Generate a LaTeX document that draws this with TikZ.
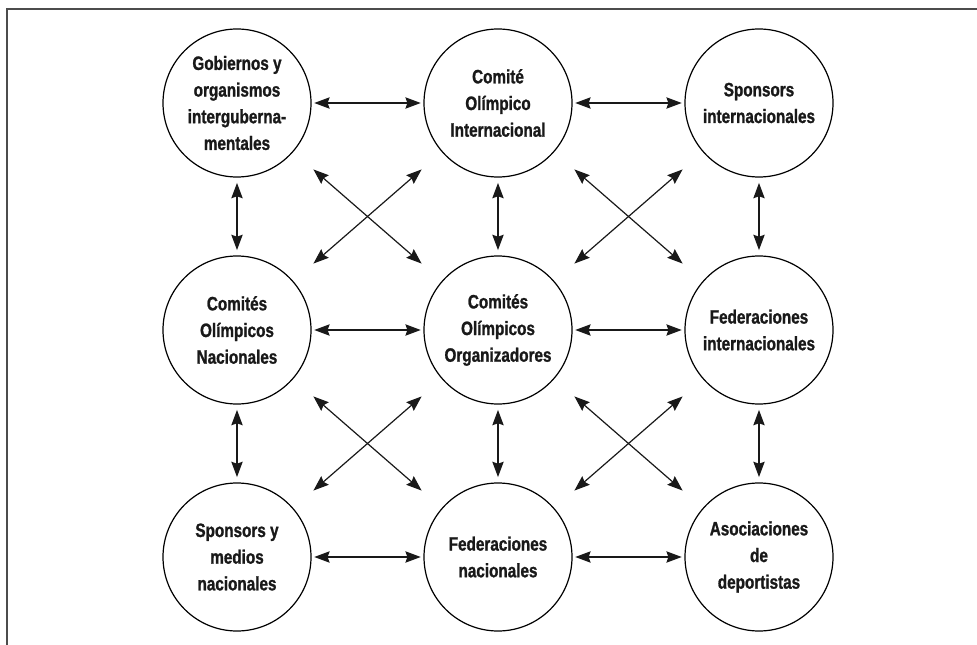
\documentclass[tikz,border=0pt]{standalone}
\usepackage{fontspec}
\newfontfamily\circfont{Liberation Sans}[FakeStretch=0.79, FakeBold=1.2]
\usetikzlibrary{arrows.meta}

\begin{document}
\begin{tikzpicture}[x=0.75pt, y=-0.75pt,
  actor/.style={circle, draw, line width=0.9pt, minimum size=111pt, inner sep=0pt,
    align=center, text=black!90, font=\circfont\bfseries\fontsize{14.5}{20}\selectfont},
  link/.style={{Stealth[length=11.5pt,width=8.5pt,inset=1.5pt]}-{Stealth[length=11.5pt,width=8.5pt,inset=1.5pt]},
    line width=0.9pt, black!90}]
  \useasboundingbox (0,0) rectangle (977,645);
  \draw[line width=1.4pt, black!70] (7,645) |- (977,9);

  \node[actor] (gob) at (237,103) {Gobiernos y\\organismos\\interguberna-\\mentales};
  \node[actor] (coi) at (498,103) {Comité\\Olímpico\\Internacional};
  \node[actor] (spi) at (759,103) {Sponsors\\internacionales};
  \node[actor] (con) at (237,330) {Comités\\Olímpicos\\Nacionales};
  \node[actor] (coo) at (498,330) {Comités\\Olímpicos\\Organizadores};
  \node[actor] (fei) at (759,330) {Federaciones\\internacionales};
  \node[actor] (spn) at (237,557) {Sponsors y\\medios\\nacionales};
  \node[actor] (fen) at (498,557) {Federaciones\\nacionales};
  \node[actor] (asd) at (759,557) {Asociaciones\\de\\deportistas};

  % horizontal
  \foreach \a/\b in {gob/coi, coi/spi, con/coo, coo/fei, spn/fen, fen/asd}
    \draw[link, shorten <=2pt, shorten >=2pt] (\a) -- (\b);
  % vertical
  \foreach \a/\b in {gob/con, coi/coo, spi/fei, con/spn, coo/fen, fei/asd}
    \draw[link, shorten <=4pt, shorten >=4pt] (\a) -- (\b);
  % diagonal
  \foreach \a/\b in {gob/coo, coi/con, coi/fei, spi/coo, con/fen, coo/spn, coo/asd, fei/fen}
    \draw[link, shorten <=20pt, shorten >=20pt] (\a) -- (\b);
\end{tikzpicture}
\end{document}
